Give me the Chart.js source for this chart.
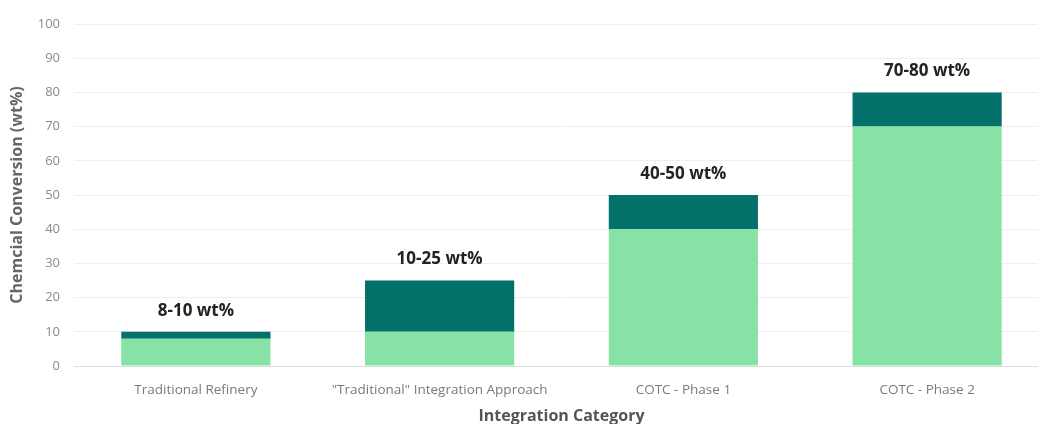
<!DOCTYPE html>
<html>
<head>
<meta charset="utf-8">
<script src="https://cdn.jsdelivr.net/npm/chart.js@4"></script>
<style>
  html, body { margin: 0; padding: 0; background: #fff; overflow: hidden; }
  #wrap { position: relative; width: 1050px; height: 426px; }
</style>
</head>
<body>
<div id="wrap"><canvas id="conversionChart"></canvas></div>
<script>
const categories = ["Traditional Refinery", "\"Traditional\" Integration Approach", "COTC - Phase 1", "COTC - Phase 2"];
const lowerValues = [8, 10, 40, 70];
const upperValues = [10, 25, 50, 80];
const rangeLabels = ["8-10 wt%", "10-25 wt%", "40-50 wt%", "70-80 wt%"];
const yTicks = [0, 10, 20, 30, 40, 50, 60, 70, 80, 90, 100];

const FONT = "'Open Sans', 'Noto Sans', sans-serif";

// range band on top of the base value
const bandValues = upperValues.map((v, i) => v - lowerValues[i]);

const rangeLabelPlugin = {
  id: "rangeLabels",
  afterDatasetsDraw(chart) {
    const ctx = chart.ctx;
    const meta = chart.getDatasetMeta(1);
    ctx.save();
    ctx.font = "bold 17px " + FONT;
    ctx.fillStyle = "#222";
    ctx.textAlign = "center";
    ctx.textBaseline = "middle";
    meta.data.forEach((bar, i) => {
      ctx.fillText(rangeLabels[i], bar.x, bar.y - 21);
    });
    ctx.restore();
  }
};

const ctx = document.getElementById("conversionChart").getContext("2d");
new Chart(ctx, {
  type: "bar",
  data: {
    labels: categories,
    datasets: [
      {
        label: "Base",
        data: lowerValues,
        backgroundColor: "#86E3A5",
        categoryPercentage: 1,
        barPercentage: 0.612,
      },
      {
        label: "Range",
        data: bandValues,
        backgroundColor: "#03706A",
        categoryPercentage: 1,
        barPercentage: 0.612,
      },
    ],
  },
  options: {
    responsive: true,
    maintainAspectRatio: false,
    animation: false,
    layout: { padding: { top: 24, right: 1, left: 0, bottom: 0 } },
    plugins: {
      legend: { display: false },
      tooltip: { enabled: false },
    },
    scales: {
      x: {
        stacked: true,
        grid: { display: false },
        border: { color: "#dcdcdc" },
        ticks: {
          color: "#7a7a7a",
          font: { family: FONT, size: 13.5 },
          padding: 8,
          maxRotation: 0,
        },
        title: {
          display: true,
          text: "Integration Category",
          color: "#555",
          font: { family: FONT, size: 16, weight: "bold" },
          padding: { top: 4, bottom: 0 },
        },
        afterFit(scale) { scale.height = 60; },
      },
      y: {
        stacked: true,
        min: 0,
        max: 100,
        afterBuildTicks(scale) { scale.ticks = yTicks.map(v => ({ value: v })); },
        grid: { color: "#eeeeee", drawTicks: false },
        border: { display: false },
        ticks: {
          color: "#8a8a8a",
          font: { family: FONT, size: 13 },
          padding: 14,
        },
        title: {
          display: true,
          text: "Chemcial Conversion (wt%)",
          color: "#666",
          font: { family: FONT, size: 16, weight: "bold" },
          padding: { top: 8, bottom: 4 },
        },
        afterFit(scale) { scale.width = 74; },
      },
    },
  },
  plugins: [rangeLabelPlugin],
});
</script>
</body>
</html>
